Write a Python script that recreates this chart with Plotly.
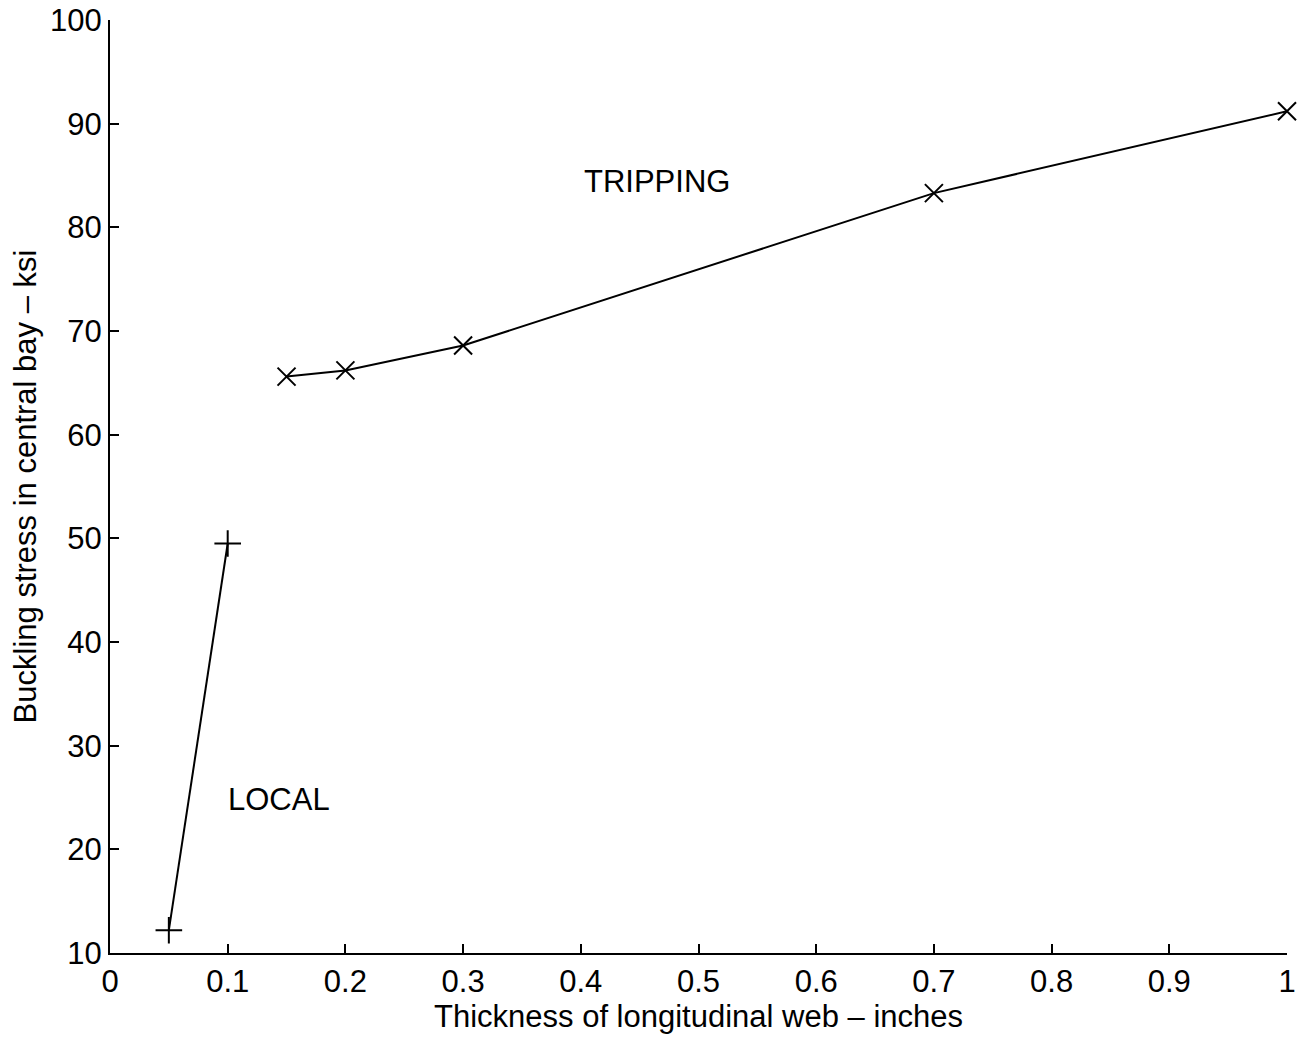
import plotly.graph_objects as go

# Local buckling branch
local_t = [0.05, 0.1]
local_s = [12.2, 49.5]

# Tripping branch
trip_t = [0.15, 0.2, 0.3, 0.7, 1.0]
trip_s = [65.6, 66.2, 68.6, 83.3, 91.2]

x_ticks = [0, 0.1, 0.2, 0.3, 0.4, 0.5, 0.6, 0.7, 0.8, 0.9, 1]
x_tick_text = ["0", "0.1", "0.2", "0.3", "0.4", "0.5", "0.6", "0.7", "0.8", "0.9", "1"]
y_ticks = [10, 20, 30, 40, 50, 60, 70, 80, 90, 100]

font_family = "Liberation Sans, Arial, Helvetica, sans-serif"
fs = 31

fig = go.Figure()
fig.add_trace(go.Scatter(
    x=local_t, y=local_s, mode="lines+markers",
    line=dict(color="black", width=2),
    marker=dict(symbol="cross-thin-open", size=19, line=dict(color="black", width=2)),
    cliponaxis=False, showlegend=False,
))
fig.add_trace(go.Scatter(
    x=trip_t, y=trip_s, mode="lines+markers",
    line=dict(color="black", width=2),
    marker=dict(symbol="x-thin-open", size=18, line=dict(color="black", width=2)),
    cliponaxis=False, showlegend=False,
))

fig.add_annotation(x=0.465, y=84.4, text="TRIPPING", showarrow=False,
                   font=dict(size=fs, color="black", family=font_family))
fig.add_annotation(x=0.1435, y=24.8, text="LOCAL", showarrow=False,
                   font=dict(size=fs, color="black", family=font_family))

axis_common = dict(
    showgrid=False, zeroline=False, showline=True, linecolor="black", linewidth=2,
    ticks="inside", ticklen=9, tickwidth=2, tickcolor="black",
    tickfont=dict(size=fs, color="black", family=font_family),
    mirror=False, automargin=False,
)

fig.update_layout(
    width=1300, height=1037,
    margin=dict(l=110, r=13, t=20, b=84),
    paper_bgcolor="white", plot_bgcolor="white",
    font=dict(family=font_family, color="black"),
    xaxis=dict(range=[0, 1], tickvals=x_ticks, ticktext=x_tick_text,
               title=dict(text="Thickness of longitudinal web – inches",
                          font=dict(size=fs, color="black", family=font_family),
                          standoff=0),
               **axis_common),
    yaxis=dict(range=[10, 100], tickvals=y_ticks,
               title=dict(text="Buckling stress in central bay – ksi",
                          font=dict(size=fs, color="black", family=font_family),
                          standoff=4),
               **axis_common),
)

fig.write_html("out.html")
